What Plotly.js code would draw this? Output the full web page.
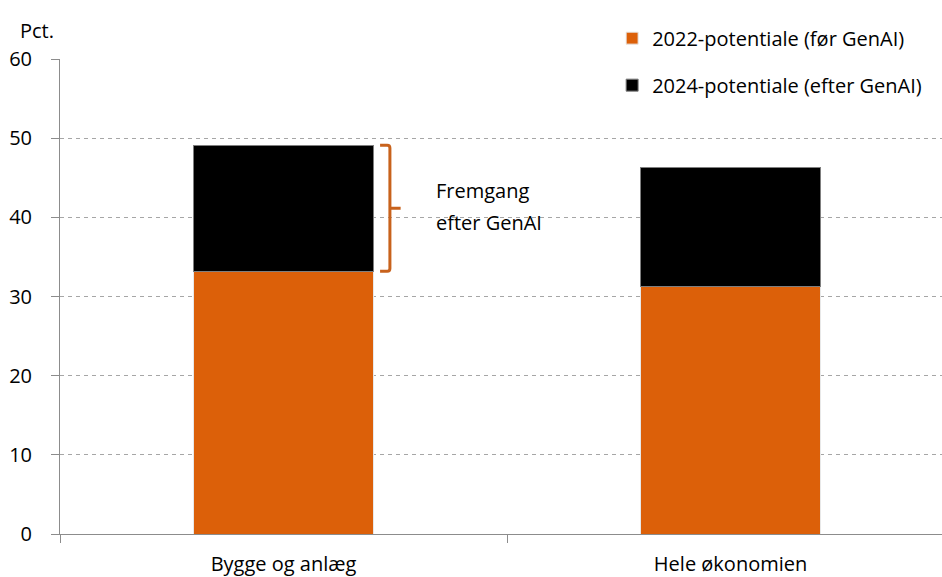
<!DOCTYPE html>
<html>
<head>
<meta charset="utf-8">
<script src="https://cdn.plot.ly/plotly-3.0.1.min.js"></script>
<style>
  html, body { margin: 0; padding: 0; background: #fff; }
  #chart { width: 942px; height: 577px; }
</style>
</head>
<body>
<div id="chart"></div>
<script>
// Sectors on the x axis
const categories = ['Bygge og anlæg', 'Hele økonomien'];
// Automation potential before GenAI (pct.)
const potential2022 = [33.2, 31.3];
// Total potential after GenAI (pct.)
const potential2024 = [49.1, 46.3];
// Added potential stacked on top of the 2022 level
const gain = potential2024.map((v, i) => +(v - potential2022[i]).toFixed(1));
const seriesNames = ['2022-potentiale (før GenAI)', '2024-potentiale (efter GenAI)'];
const yTicks = [0, 10, 20, 30, 40, 50, 60];

const FONT = 'Open Sans, sans-serif';
const FS = 20;
const ORANGE = '#DC6009';
const BRACKET = '#C8621C';

const traces = [
  {
    type: 'bar', x: categories, y: potential2022, name: seriesNames[0],
    legendgroup: 'a', width: 0.403,
    marker: { color: ORANGE, line: { color: '#e8e8e8', width: 1 } },
    hoverinfo: 'skip'
  },
  {
    type: 'bar', x: categories, y: gain, name: seriesNames[1],
    legendgroup: 'b', width: 0.403,
    marker: { color: '#000000', line: { color: '#7f7f7f', width: 1 } },
    hoverinfo: 'skip'
  }
];

// Curly bracket next to the first bar, spanning the GenAI gain
const lo = potential2022[0], hi = potential2024[0], mid = (lo + hi) / 2;
const bx0 = 0.216, bx1 = 0.238, bx2 = 0.262, r = 0.35, rx = 0.006;
const bracketPath =
  `M ${bx0},${hi} L ${bx1 - rx},${hi} Q ${bx1},${hi} ${bx1},${hi - r} ` +
  `L ${bx1},${mid} L ${bx2},${mid} M ${bx1},${mid} ` +
  `L ${bx1},${lo + r} Q ${bx1},${lo} ${bx1 - rx},${lo} L ${bx0},${lo}`;

const txt = { family: FONT, size: FS, color: '#000000' };

const layout = {
  width: 942, height: 577,
  margin: { l: 60, r: 0, t: 59, b: 43, pad: 0 },
  paper_bgcolor: '#ffffff', plot_bgcolor: '#ffffff',
  font: txt,
  barmode: 'stack',
  showlegend: true,
  legend: {
    x: 0.626, y: 1.085, xanchor: 'left', yanchor: 'top',
    traceorder: 'grouped', tracegroupgap: 18,
    font: txt, bgcolor: 'rgba(0,0,0,0)', itemwidth: 30
  },
  xaxis: {
    type: 'category', range: [-0.5, 1.473],
    showline: true, linecolor: '#8c8c8c', linewidth: 1,
    ticks: 'outside', tickson: 'boundaries', ticklen: 8, tickcolor: '#8c8c8c',
    showgrid: false, zeroline: false, ticklabelstandoff: 12,
    tickfont: txt
  },
  yaxis: {
    range: [0, 60], tickvals: yTicks,
    showline: true, linecolor: '#8c8c8c', linewidth: 1,
    ticks: 'outside', ticklen: 8, tickcolor: '#8c8c8c',
    showgrid: true, gridcolor: '#a6a6a6', gridwidth: 1, griddash: '4px,4px',
    zeroline: false, ticklabelstandoff: 15,
    tickfont: txt
  },
  shapes: [
    {
      type: 'path', xref: 'x', yref: 'y', path: bracketPath,
      line: { color: BRACKET, width: 3 }, layer: 'above'
    }
  ],
  annotations: [
    {
      xref: 'paper', yref: 'paper', x: -0.0476, y: 1.061, xanchor: 'left', yanchor: 'middle',
      text: 'Pct.', showarrow: false, font: txt
    },
    {
      xref: 'x', yref: 'y', x: 0.336, y: 43.45, xanchor: 'left', yanchor: 'middle',
      text: 'Fremgang', showarrow: false, font: txt
    },
    {
      xref: 'x', yref: 'y', x: 0.336, y: 39.4, xanchor: 'left', yanchor: 'middle',
      text: 'efter GenAI', showarrow: false, font: txt
    }
  ]
};

Plotly.newPlot('chart', traces, layout, { displayModeBar: false, staticPlot: true });
</script>
</body>
</html>
